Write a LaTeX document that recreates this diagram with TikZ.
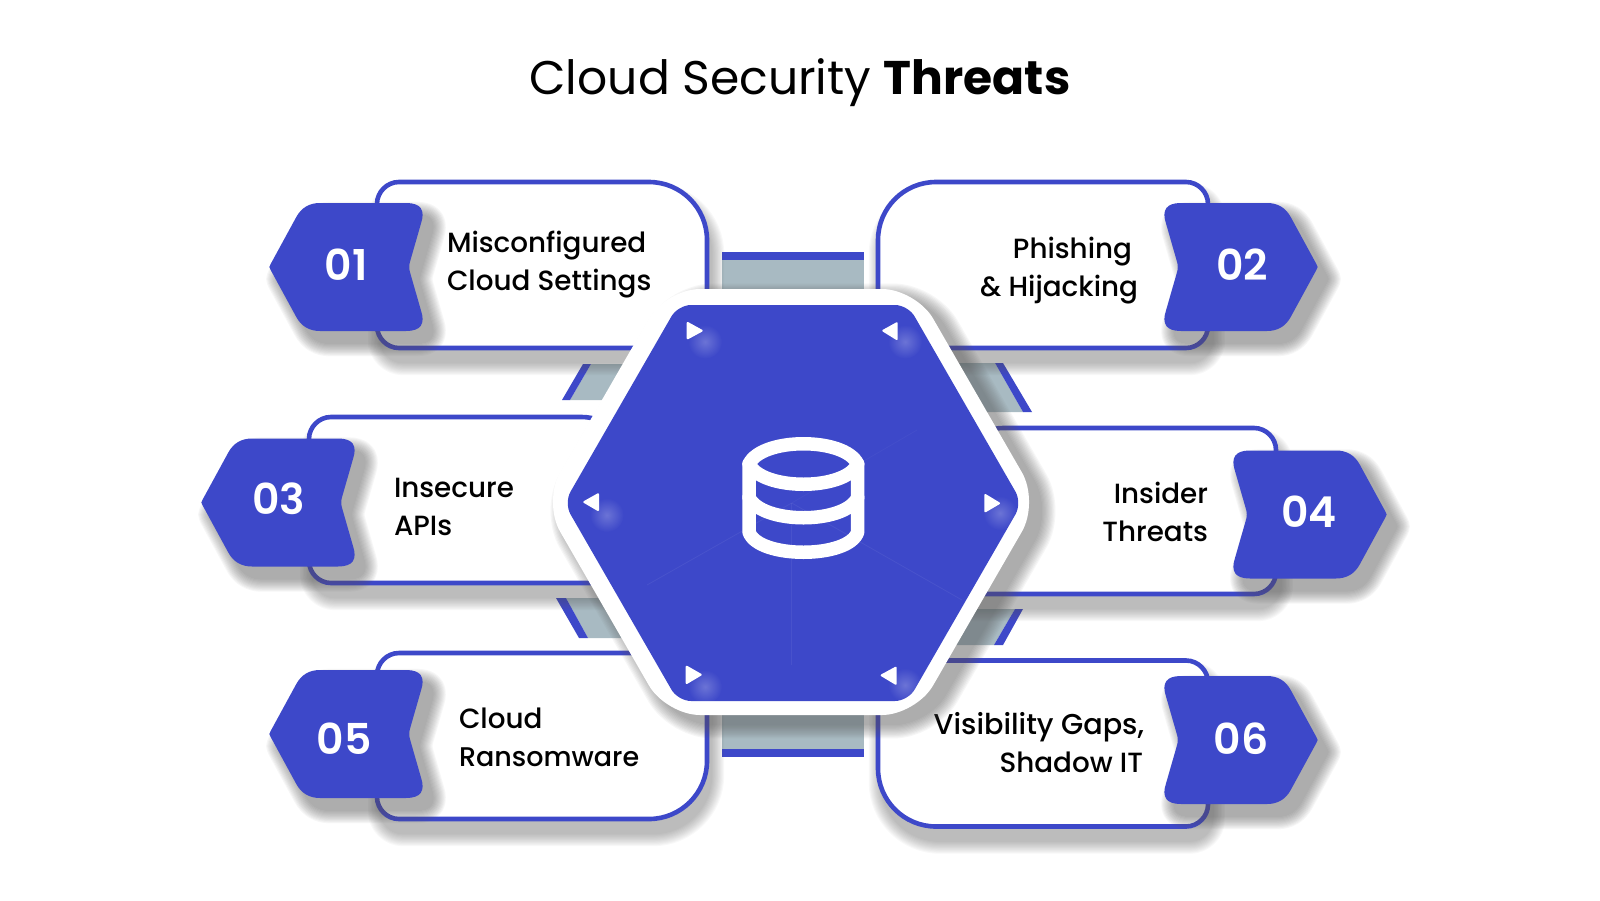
\documentclass[tikz,border=0pt]{standalone}
\usepackage{fontspec}
\setmainfont{Poppins}
\newfontfamily\popm{Poppins Medium}
\newfontfamily\pops{Poppins SemiBold}
\usetikzlibrary{fadings}
\definecolor{brand}{HTML}{3D48C9}
\definecolor{bandgray}{HTML}{A8BAC2}
\definecolor{shade}{HTML}{5A5A5A}
\tikzfading[name=glowfade, inner color=transparent!76, outer color=transparent!100]
\def\cardpath{(0,-61) .. controls (0,-73) and (10,-83) .. (22,-83) -- (272,-83) .. controls (304,-83) and (330,-57) .. (330,-25) -- (330,83) -- (22,83) .. controls (10,83) and (0,73) .. (0,61) -- cycle}
\def\badgepath{(1.5,-2.7) -- (27.3,-50) .. controls (32.4,-59.3) and (40.3,-64) .. (51,-64) -- (137,-64) .. controls (151.7,-64) and (156.6,-57.1) .. (151.9,-43.2) -- (141.5,-7) .. controls (139.8,-2.3) and (139.8,2.3) .. (141.5,7) -- (151.9,43.2) .. controls (156.6,57.1) and (151.7,64) .. (137,64) -- (51,64) .. controls (40.3,64) and (32.4,59.3) .. (27.3,50) -- (1.5,2.7) .. controls (0,0) .. cycle}
\def\hexouter{[rounded corners=34] (666,289) -- (916,289) -- (1039,502) -- (916,715) -- (666,715) -- (543,502) -- cycle}
\def\hexinner{[rounded corners=13] (678,305) -- (908,305) -- (1022,503) -- (908,701) -- (678,701) -- (564,503) -- cycle}
\newcommand\softshadow[5]{%
  \foreach \w in {1,2,...,12}{%
    \begin{scope}[transparency group,opacity=#4]
    \path (-700,-700) rectangle (1700,1700);
    \path[shift={(#2,#3)},draw=shade,fill=shade,line join=round,line width=\w*#5] #1;
    \end{scope}}}
\tikzset{
  cardbox/.style={draw=brand,line width=4.6,fill=white},
  badgebox/.style={fill=brand},
  labeltext/.style={font=\popm\fontsize{27.8}{38}\selectfont,inner sep=0,outer sep=0},
  numtext/.style={font=\pops\fontsize{42.5}{42.5}\selectfont,text=white,inner sep=0,outer sep=0,anchor=base},
  tri/.style={fill=white,draw=white,line width=2,line join=round},
  glow/.style={fill=white,path fading=glowfade},
  faint/.style={draw=white,opacity=.06,line width=.8},
  dbline/.style={draw=white,line width=13.5,line join=round,line cap=round}
}
\newcommand\card[4]{%
  \begin{scope}[shift={(#1,#2)},xscale=#3,yscale=#4]
    \softshadow{\cardpath}{4*#3}{14*#4}{.04}{2.2}
    \path[cardbox] \cardpath;
  \end{scope}}
\newcommand\badge[3]{%
  \begin{scope}[shift={(#1,#2)},xscale=#3]
    \softshadow{\badgepath}{10*#3}{12}{.052}{2.2}
    \path[badgebox] \badgepath;
  \end{scope}}
\begin{document}
\begin{tikzpicture}[x=1pt,y=-1pt]
\useasboundingbox (0,0) rectangle (1600,900);
\fill[white] (0,0) rectangle (1600,900);
% band behind
\fill[bandgray] (722,258) rectangle (864,330);
\fill[brand] (722,252) rectangle (864,260);
\fill[bandgray] (722,680) rectangle (864,750);
\fill[brand] (722,749) rectangle (864,757);
\fill[bandgray] (570,400) -- (591,364) -- (690,364) -- (690,400) -- cycle;
\fill[brand] (562,400) -- (583,364) -- (591,364) -- (570,400) -- cycle;
\fill[bandgray] (995,363) -- (1023,412) -- (900,412) -- (900,363) -- cycle;
\fill[brand] (995,363) -- (1003,363) -- (1032,412) -- (1023,412) -- cycle;
\fill[bandgray] (566,598) -- (588,638) -- (690,638) -- (690,598) -- cycle;
\fill[brand] (556,598) -- (566,598) -- (588,638) -- (579,638) -- cycle;
\fill[bandgray] (1015,609) -- (994,645) -- (900,645) -- (900,609) -- cycle;
\fill[brand] (1015,609) -- (1023,609) -- (1003,645) -- (994,645) -- cycle;
% cards and badges
\card{377}{265}{1}{1}
\badge{269}{267}{1}
\card{1208}{265}{-1}{1}
\badge{1318}{267}{-1}
\card{309}{500}{1}{1}
\badge{201}{502.5}{1}
\card{1276}{511}{-1}{1}
\badge{1387}{514.5}{-1}
\card{377}{736}{1}{-1}
\badge{269}{734}{1}
\card{1208}{743.5}{-1}{-1}
\badge{1318}{740}{-1}
% numbers
\node[numtext] (n1) at (346,280.5) {01};
\node[numtext] (n2) at (1242,280.5) {02};
\node[numtext] (n3) at (278.5,514.5) {03};
\node[numtext] (n4) at (1309,527) {04};
\node[numtext] (n5) at (344,754) {05};
\node[numtext] (n6) at (1241,754) {06};
% labels
\node[labeltext,anchor=base west] (l1a) at (447,252) {Misconfigured};
\node[labeltext,anchor=base west] (l1b) at (447,290) {Cloud Settings};
\node[labeltext,anchor=base east] (l2a) at (1132,258) {Phishing};
\node[labeltext,anchor=base east] (l2b) at (1138,296) {\& Hijacking};
\node[labeltext,anchor=base west] (l3a) at (394,497) {Insecure};
\node[labeltext,anchor=base west] (l3b) at (394,535) {APIs};
\node[labeltext,anchor=base east] (l4a) at (1208,503) {Insider};
\node[labeltext,anchor=base east] (l4b) at (1208,541) {Threats};
\node[labeltext,anchor=base west] (l5a) at (459,728) {Cloud};
\node[labeltext,anchor=base west,font=\popm\fontsize{27}{38}\selectfont] (l5b) at (459,766) {Ransomware};
\node[labeltext,anchor=base east,font=\popm\fontsize{28.7}{38}\selectfont] (l6a) at (1144,734) {Visibility Gaps,};
\node[labeltext,anchor=base east] (l6b) at (1143,772) {Shadow IT};
% hexagon
\softshadow{\hexouter}{12}{9}{.05}{2.4}
\fill[white] \hexouter;
\fill[brand] \hexinner;
\draw[faint] (791.7,503) -- (791.7,665);
\draw[faint] (791.7,503) -- (647,585);
\draw[faint] (791.7,503) -- (962,600);
\draw[faint,opacity=.03] (791.7,503) -- (917,430);
% glows
\fill[glow] (705,341.7) circle (17);
\fill[glow] (905,341.7) circle (17);
\fill[glow] (606.7,515) circle (17);
\fill[glow] (1000,513) circle (17);
\fill[glow] (705,686.7) circle (17);
\fill[glow] (905,685) circle (17);
% triangles
\path[tri] (687.7,323) -- (701.7,330.7) -- (687.7,338.3) -- cycle;
\path[tri] (896.7,323.3) -- (883.3,330.7) -- (896.7,339) -- cycle;
\path[tri] (598,494.3) -- (584.3,502) -- (598,510) -- cycle;
\path[tri] (985.3,495) -- (999,503.3) -- (985.3,511.3) -- cycle;
\path[tri] (686.7,666.7) -- (700.7,674.7) -- (686.7,683) -- cycle;
\path[tri] (895.7,667.7) -- (881.7,675.3) -- (895.7,683.7) -- cycle;
% database icon
\draw[dbline] (749,464) .. controls (762,437) and (845,437) .. (857.7,464) .. controls (845,491) and (762,491) .. (749,464) -- cycle;
\draw[dbline] (749,464) -- (749,532) .. controls (758,559) and (849,559) .. (857.7,532) -- (857.7,464);
\draw[dbline] (749,497.5) .. controls (762,524.5) and (845,524.5) .. (857.7,497.5);
% title
\node[inner sep=0,outer sep=0,anchor=base,font=\fontsize{47.2}{47}\selectfont] (title) at (800,94) {Cloud Security \textbf{Threats}};
\end{tikzpicture}
\end{document}
